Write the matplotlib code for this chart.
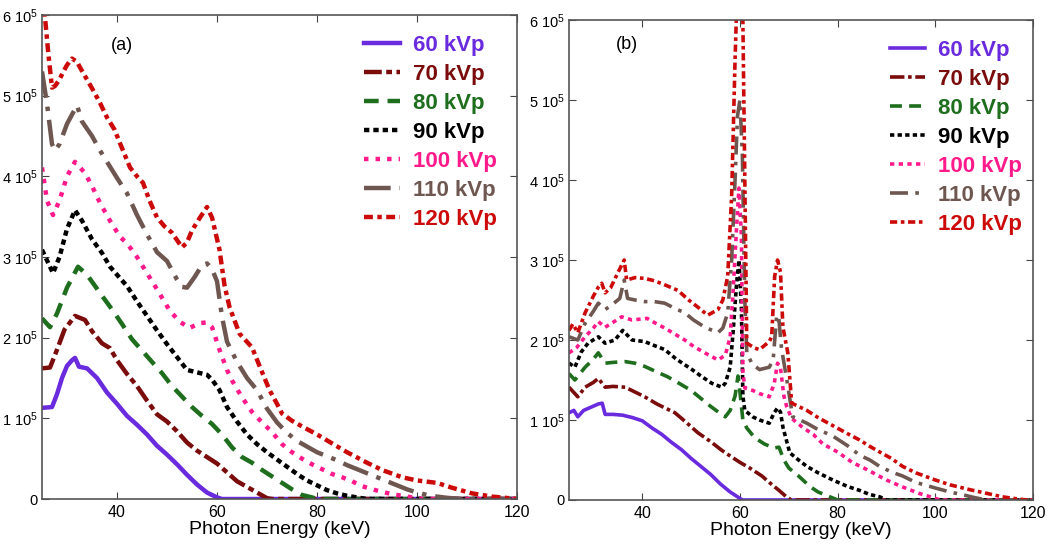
import matplotlib
matplotlib.use('Agg')
import matplotlib.pyplot as plt
from matplotlib.ticker import FixedLocator

plt.rcParams['font.family'] = ['Liberation Sans', 'DejaVu Sans']
plt.rcParams['mathtext.default'] = 'regular'

labels = ['60 kVp', '70 kVp', '80 kVp', '90 kVp', '100 kVp', '110 kVp', '120 kVp']

# ---- panel (a): energies in keV, counts in units of 1e5 ----
e60a = [25, 27, 28, 29, 30, 31, 31.6, 32.4, 34, 36, 38, 40, 42, 44, 46, 48, 50, 52, 54, 56, 58, 60, 61, 120]
v60a = [1.13, 1.14, 1.3, 1.5, 1.65, 1.72, 1.75, 1.64, 1.62, 1.5, 1.32, 1.18, 1.03, 0.92, 0.8, 0.66, 0.55, 0.43, 0.3, 0.18, 0.08, 0.02, 0, 0]

e70a = [25, 26.6, 28, 29.5, 31.6, 33.6, 35, 37, 38.6, 40, 42, 44, 46, 48, 50, 52, 54, 56, 58, 60, 62, 64, 66, 68, 70, 71, 120]
v70a = [1.62, 1.63, 1.85, 2.1, 2.27, 2.22, 2.08, 1.93, 1.87, 1.72, 1.55, 1.4, 1.22, 1.05, 0.96, 0.84, 0.7, 0.6, 0.52, 0.44, 0.33, 0.22, 0.15, 0.08, 0.01, 0, 0]

e80a = [25, 26.6, 28, 30, 32.2, 34, 35.5, 37, 39, 41, 43, 45, 47, 49, 51, 53, 55, 57, 59, 61, 63, 65, 67, 69, 71, 73, 75, 77, 79, 80, 120]
v80a = [2.24, 2.13, 2.3, 2.62, 2.88, 2.78, 2.65, 2.52, 2.35, 2.17, 1.98, 1.84, 1.7, 1.56, 1.4, 1.27, 1.14, 1.03, 0.93, 0.8, 0.64, 0.52, 0.45, 0.36, 0.28, 0.2, 0.12, 0.05, 0.02, 0, 0]

e90a = [25, 27.2, 28.5, 30, 31.6, 33, 35, 37, 38.6, 40, 42, 44, 46, 48, 50, 52, 54, 56, 58, 59, 60.5, 62, 64, 66, 68, 70, 72, 74, 76, 78, 80, 82, 84, 86, 88, 90, 120]
v90a = [3.09, 2.8, 3.0, 3.35, 3.58, 3.45, 3.22, 3.05, 2.88, 2.78, 2.64, 2.45, 2.27, 2.09, 1.92, 1.76, 1.6, 1.57, 1.54, 1.48, 1.35, 1.14, 0.96, 0.8, 0.68, 0.58, 0.49, 0.4, 0.31, 0.23, 0.17, 0.11, 0.07, 0.04, 0.02, 0, 0]

e100a = [25, 26, 27.2, 28.5, 30, 31.6, 33.6, 35, 36.6, 38.6, 40.6, 42, 44, 46, 48, 50.5, 52.5, 54.5, 56.5, 58, 59, 60.5, 62, 63, 65, 67, 69, 71, 73, 75, 77, 79, 81, 83, 85, 87, 89, 91, 93, 95, 97, 99, 101, 120]
v100a = [4.11, 3.7, 3.52, 3.7, 4.0, 4.18, 4.04, 3.88, 3.67, 3.45, 3.25, 3.17, 3.0, 2.8, 2.6, 2.34, 2.2, 2.12, 2.18, 2.19, 2.13, 1.85, 1.6, 1.47, 1.26, 1.08, 0.95, 0.83, 0.68, 0.58, 0.5, 0.43, 0.37, 0.31, 0.27, 0.22, 0.16, 0.12, 0.09, 0.06, 0.04, 0.02, 0, 0]

e110a = [25, 26, 27, 27.6, 28.5, 30, 32, 33, 35, 36.6, 38.6, 40, 42, 44, 46, 48, 50, 52, 53, 54, 55.5, 57, 58, 59, 60, 61, 62, 64, 66, 68, 70, 72, 74, 76, 78, 80, 82, 84, 86, 88, 90, 92, 94, 96, 98, 100, 102, 104, 106, 108, 110, 120]
v110a = [5.3, 4.9, 4.4, 4.32, 4.4, 4.65, 4.88, 4.68, 4.5, 4.32, 4.12, 3.98, 3.79, 3.52, 3.28, 3.06, 2.95, 2.72, 2.63, 2.62, 2.75, 2.9, 2.92, 2.85, 2.7, 2.26, 1.95, 1.7, 1.5, 1.35, 1.12, 0.95, 0.82, 0.72, 0.65, 0.58, 0.53, 0.48, 0.42, 0.37, 0.32, 0.27, 0.22, 0.17, 0.12, 0.08, 0.05, 0.03, 0.015, 0.005, 0, 0]

e120a = [25, 25.6, 26.3, 27, 27.6, 28.5, 29.2, 30, 31, 32, 32.6, 34, 35.2, 36.6, 38, 39.5, 40.6, 42.6, 44, 45.2, 46.5, 48, 49.5, 51, 53, 54, 55, 56.5, 58, 59, 60.5, 61.5, 62.5, 64.5, 67, 68.5, 70.5, 72, 73, 75, 77, 80, 83, 86, 90, 93, 97, 100, 104, 107, 111, 115, 118.5, 120]
v120a = [6.3, 5.97, 5.5, 5.1, 5.12, 5.2, 5.29, 5.38, 5.46, 5.42, 5.35, 5.2, 5.07, 4.91, 4.73, 4.58, 4.41, 4.11, 4.0, 3.92, 3.7, 3.49, 3.38, 3.3, 3.12, 3.18, 3.33, 3.48, 3.62, 3.49, 3.09, 2.65, 2.38, 2.05, 1.88, 1.65, 1.35, 1.18, 1.06, 0.97, 0.9, 0.8, 0.69, 0.58, 0.45, 0.36, 0.27, 0.23, 0.2, 0.14, 0.07, 0.03, 0.01, 0]

# ---- panel (b) ----
e60b = [25, 26, 26.8, 28, 29.5, 31, 31.8, 32.4, 34, 36, 38, 40, 42, 44, 46, 48, 50, 52, 54, 56, 58, 60, 60.5, 120]
v60b = [1.09, 1.12, 1.04, 1.12, 1.16, 1.2, 1.21, 1.07, 1.07, 1.06, 1.03, 0.99, 0.9, 0.82, 0.72, 0.63, 0.52, 0.42, 0.32, 0.2, 0.1, 0.02, 0, 0]

e70b = [25, 26.8, 28.3, 30, 31, 32.4, 34, 36.5, 38.5, 40.5, 43, 46.7, 49, 51.4, 54, 56.3, 58, 60, 62, 64.5, 66, 68, 69.5, 70.5, 120]
v70b = [1.41, 1.29, 1.41, 1.47, 1.52, 1.41, 1.42, 1.41, 1.35, 1.29, 1.2, 1.09, 0.97, 0.84, 0.73, 0.62, 0.55, 0.47, 0.4, 0.3, 0.22, 0.12, 0.04, 0, 0]

e80b = [25, 26.2, 28.3, 30, 31, 32.4, 34, 36.5, 38.5, 40.5, 43, 45.2, 47.5, 50, 52, 54, 56, 57, 58, 59, 59.6, 60, 60.6, 61.4, 63, 65, 67, 68, 69, 70, 72, 74.3, 76, 78.4, 80, 120]
v80b = [1.58, 1.5, 1.66, 1.76, 1.84, 1.71, 1.72, 1.73, 1.71, 1.67, 1.6, 1.54, 1.46, 1.37, 1.27, 1.17, 1.08, 1.04, 1.12, 1.3, 1.55, 1.35, 1.0, 0.9, 0.78, 0.7, 0.65, 0.66, 0.5, 0.4, 0.3, 0.17, 0.1, 0.04, 0, 0]

e90b = [25, 26.2, 27.5, 28.9, 31, 32.4, 34.4, 36, 37.9, 40.5, 42.5, 44.6, 47, 50.2, 52, 54.2, 56.3, 57, 58, 58.6, 59.3, 59.8, 60.3, 60.6, 61, 62.6, 64, 66, 67, 67.7, 68.3, 68.8, 70.2, 72, 73.7, 76, 79, 82, 84.5, 86.5, 88.6, 90, 120]
v90b = [1.71, 1.66, 1.85, 1.96, 2.04, 1.96, 2.0, 2.12, 2.0, 1.98, 1.93, 1.88, 1.76, 1.63, 1.55, 1.46, 1.41, 1.46, 1.66, 2.1, 2.7, 3.0, 2.4, 1.3, 1.12, 1.04, 1.0, 0.96, 1.09, 1.15, 1.1, 0.91, 0.59, 0.5, 0.42, 0.34, 0.25, 0.17, 0.12, 0.07, 0.04, 0, 0]

e100b = [25, 26.5, 28.3, 30, 31, 32.4, 34, 35.8, 37.9, 41, 43, 44.6, 46.5, 48.7, 50.5, 52.8, 55.5, 57, 58, 58.6, 59.3, 59.8, 60.3, 60.6, 61, 62.6, 64, 66, 67, 67.7, 68.3, 69, 69.6, 70.6, 73, 75, 77, 80, 83, 86, 90, 93, 96.8, 100, 101, 120]
v100b = [1.84, 1.9, 2.04, 2.15, 2.23, 2.16, 2.22, 2.29, 2.25, 2.27, 2.2, 2.15, 2.08, 2.0, 1.92, 1.84, 1.75, 1.81, 2.04, 2.6, 3.4, 3.9, 3.3, 1.6, 1.4, 1.37, 1.33, 1.29, 1.45, 1.71, 1.65, 1.3, 1.16, 1.02, 0.9, 0.82, 0.7, 0.6, 0.47, 0.38, 0.25, 0.17, 0.08, 0.02, 0, 0]

e110b = [25, 26.8, 28.3, 30, 31, 32.4, 34, 35.4, 36.3, 37, 38.5, 40.5, 42.5, 44.6, 46.5, 48.7, 50.5, 52.8, 55.5, 56.5, 57.5, 58.3, 59, 59.5, 60, 60.5, 61, 61.4, 62.5, 64, 66, 66.8, 67.5, 67.9, 68.5, 69.6, 70.8, 73.7, 76, 79, 82, 84.5, 86.6, 88.6, 91, 93.3, 96, 100, 103, 106, 108, 110.5, 120]
v110b = [2.04, 2.0, 2.21, 2.36, 2.46, 2.38, 2.45, 2.52, 2.75, 2.52, 2.5, 2.48, 2.48, 2.46, 2.4, 2.34, 2.25, 2.16, 2.09, 2.15, 2.34, 3.0, 4.0, 4.8, 5.0, 4.3, 2.5, 1.84, 1.7, 1.63, 1.66, 1.75, 2.29, 2.31, 1.9, 1.5, 1.04, 0.96, 0.88, 0.8, 0.68, 0.56, 0.5, 0.42, 0.35, 0.3, 0.22, 0.15, 0.1, 0.06, 0.03, 0, 0]

e120b = [25, 25.8, 26.8, 28.3, 30, 31, 31.7, 32.4, 33.5, 35, 36.3, 36.8, 38.5, 40.5, 42.5, 44.6, 47.3, 49.5, 51.4, 53.4, 55.5, 56.5, 57.5, 58.3, 59, 59.5, 60.5, 61, 61.4, 63, 64, 66, 66.5, 67.1, 67.7, 68.3, 68.8, 69.8, 70.6, 73.7, 76, 79, 82, 84.5, 86.6, 88.6, 91, 93.3, 96, 100, 103, 107, 110, 113.7, 116, 118.7, 120]
v120b = [2.12, 2.2, 2.09, 2.34, 2.55, 2.66, 2.71, 2.59, 2.65, 2.84, 3.0, 2.75, 2.78, 2.77, 2.74, 2.69, 2.62, 2.5, 2.41, 2.31, 2.38, 2.5, 2.8, 3.8, 5.5, 6.5, 6.5, 4.0, 1.96, 1.9, 1.88, 1.98, 2.04, 2.79, 3.0, 2.85, 2.16, 1.84, 1.21, 1.12, 1.03, 0.93, 0.83, 0.75, 0.67, 0.6, 0.52, 0.42, 0.34, 0.25, 0.19, 0.13, 0.09, 0.04, 0.02, 0, 0]

colors = ['#6a2ade', '#7a0c0c', '#1e6e1e', '#000000', '#ff1a8c', '#6e5750', '#cc0a0a']
dash_a = [None, (4, 1, 1.3, 1), (3.3, 2), (1.2, 0.9), (1, 1.6), (6, 2, 1, 2), (2, 1, 1, 1)]
dash_b = [None, (4, 1, 1, 1), (3.3, 2), (1.2, 0.9), (1.2, 1.2), (5, 2, 1, 2), (2, 1, 1, 1)]

panel_a = [(e60a, v60a), (e70a, v70a), (e80a, v80a), (e90a, v90a), (e100a, v100a), (e110a, v110a), (e120a, v120a)]
panel_b = [(e60b, v60b), (e70b, v70b), (e80b, v80b), (e90b, v90b), (e100b, v100b), (e110b, v110b), (e120b, v120b)]

fig = plt.figure(figsize=(10.5, 5.44), dpi=100)
ax1 = fig.add_axes([0.040, 0.0827, 0.4524, 0.8897])
ax2 = fig.add_axes([0.5419, 0.0809, 0.4419, 0.8823])


def draw(ax, series, dashes, lw, tag, tag_x, tag_y, leg_x):
    for (e, v), c, d, lab in zip(series, colors, dashes, labels):
        line, = ax.plot(e, [x * 1e5 for x in v], color=c, lw=lw, label=lab)
        if d is not None:
            line.set_dashes(d)
    ax.set_xlim(25, 120)
    ax.set_ylim(0, 6e5)
    ax.xaxis.set_major_locator(FixedLocator([40, 60, 80, 100, 120]))
    ax.yaxis.set_major_locator(FixedLocator([0, 1e5, 2e5, 3e5, 4e5, 5e5, 6e5]))
    ax.set_yticklabels(['0'] + ['%d $10^5$' % k for k in range(1, 7)])
    ax.tick_params(direction='in', top=True, right=True, length=5, color='#444444')
    ax.tick_params(axis='x', labelsize=11.5, pad=4)
    ax.tick_params(axis='y', labelsize=10.5, pad=3)
    for s in ax.spines.values():
        s.set_color('#555555')
        s.set_linewidth(1.2)
    ax.set_xlabel('Photon Energy (keV)', fontsize=14, labelpad=1)
    ax.text(tag_x, tag_y, tag, transform=ax.transAxes, fontsize=13, ha='center', va='center')
    leg = ax.legend(loc='upper right', bbox_to_anchor=(leg_x, 1.0), frameon=False,
                    prop={'weight': 'bold', 'size': 16}, handlelength=1.6,
                    labelspacing=0.36, handletextpad=0.6)
    for t, c in zip(leg.get_texts(), colors):
        t.set_color(c)


draw(ax1, panel_a, dash_a, 3.2, '(a)', 0.168, 0.938, 1.0)
draw(ax2, panel_b, dash_b, 2.6, '(b)', 0.125, 0.948, 1.02)

fig.savefig('out.png', dpi=100)
